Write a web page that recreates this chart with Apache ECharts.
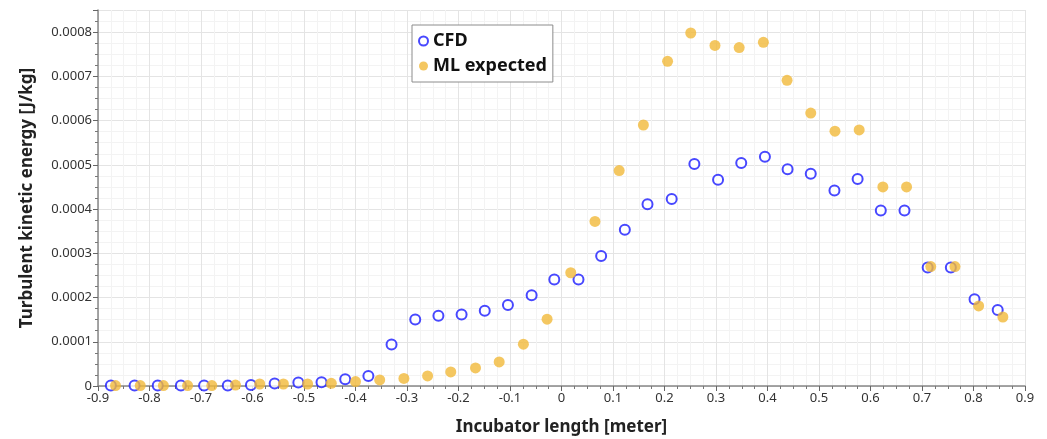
<!DOCTYPE html>
<html>
<head>
<meta charset="utf-8">
<script src="https://cdn.jsdelivr.net/npm/echarts@6/dist/echarts.min.js"></script>
<style>
  html, body { margin: 0; padding: 0; background: #fff; }
  #chart { width: 1047px; height: 439px; }
</style>
</head>
<body>
<div id="chart"></div>
<script>
// CFD result, x in meter, y in J/kg
var cfdX = [-0.875, -0.829, -0.784, -0.739, -0.694, -0.648, -0.603, -0.557, -0.511, -0.466,
  -0.420, -0.375, -0.330, -0.284, -0.239, -0.194, -0.149, -0.104, -0.058, -0.014,
  0.033, 0.077, 0.123, 0.167, 0.214, 0.258, 0.304, 0.349, 0.395, 0.439,
  0.484, 0.530, 0.575, 0.620, 0.666, 0.711, 0.756, 0.802, 0.847];
var cfdY = [0.000001, 0.000001, 0.000001, 0.000001, 0.000001, 0.000001, 0.000002, 0.0000054, 0.0000077, 0.0000084,
  0.0000152, 0.0000227, 0.0000938, 0.0001504, 0.0001587, 0.0001617, 0.00017, 0.000183, 0.000205, 0.000241,
  0.000241, 0.000294, 0.000353, 0.000411, 0.000423, 0.000502, 0.000466, 0.000504, 0.000518, 0.000490,
  0.00048, 0.000442, 0.000468, 0.000397, 0.000397, 0.000268, 0.000268, 0.000196, 0.000172];

// ML expected
var mlX = [-0.866, -0.818, -0.773, -0.726, -0.679, -0.633, -0.586, -0.540, -0.493, -0.447,
  -0.400, -0.353, -0.306, -0.260, -0.215, -0.167, -0.121, -0.074, -0.028, 0.018,
  0.065, 0.112, 0.159, 0.206, 0.251, 0.298, 0.345, 0.392, 0.438, 0.484,
  0.531, 0.578, 0.624, 0.670, 0.717, 0.764, 0.810, 0.857];
var mlY = [0.000001, 0.000001, 0.000001, 0.000001, 0.000001, 0.000002, 0.0000045, 0.0000045, 0.0000045, 0.000006,
  0.00001, 0.0000136, 0.0000172, 0.0000227, 0.0000317, 0.0000408, 0.0000544, 0.0000945, 0.000151, 0.000256,
  0.000372, 0.000487, 0.00059, 0.000734, 0.000798, 0.00077, 0.000765, 0.000777, 0.000691, 0.000617,
  0.000576, 0.000579, 0.00045, 0.00045, 0.00027, 0.00027, 0.000181, 0.000156];

function pairs(xs, ys) {
  var out = [];
  for (var i = 0; i < xs.length; i++) {
    out.push([xs[i], ys[i]]);
  }
  return out;
}

var fontName = "Noto Sans";
var myChart = echarts.init(document.getElementById("chart"), null, { renderer: "canvas" });

var option = {
  animation: false,
  textStyle: { fontFamily: fontName },
  grid: { left: 98, right: 22, top: 10, bottom: 53, outerBoundsMode: "none" },
  legend: {
    left: 412,
    top: 25,
    orient: "vertical",
    itemGap: 7,
    itemWidth: 9,
    itemHeight: 9,
    padding: [7, 6, 7, 6],
    borderColor: "#8c8c8c",
    borderWidth: 1,
    backgroundColor: "#fff",
    textStyle: { fontSize: 18, fontWeight: "bold", color: "#111", fontFamily: fontName },
    data: ["CFD", "ML expected"]
  },
  xAxis: {
    type: "value",
    min: -0.9,
    max: 0.9,
    interval: 0.1,
    name: "Incubator length [meter]",
    nameLocation: "middle",
    nameGap: 33,
    nameTextStyle: { fontSize: 17, fontWeight: "bold", color: "#222", fontFamily: fontName },
    axisLine: { show: true, onZero: false, lineStyle: { color: "#888", width: 1.5 } },
    axisTick: { show: true, length: 5, lineStyle: { color: "#666" } },
    minorTick: { show: true, splitNumber: 4, length: 3, lineStyle: { color: "#777" } },
    axisLabel: {
      fontSize: 13,
      color: "#333",
      margin: 6,
      formatter: function (v) {
        var s = Number(v).toFixed(1);
        return s === "0.0" || s === "-0.0" ? "0" : s;
      }
    },
    splitLine: { show: true, lineStyle: { color: "#e4e4e4" } },
    minorSplitLine: { show: true, lineStyle: { color: "#f3f3f3" } }
  },
  yAxis: {
    type: "value",
    min: 0,
    max: 0.00085,
    interval: 0.0001,
    name: "Turbulent kinetic energy [J/kg]",
    nameLocation: "middle",
    nameGap: 62,
    nameTextStyle: { fontSize: 17, fontWeight: "bold", color: "#222", fontFamily: fontName },
    axisLine: { show: true, onZero: false, lineStyle: { color: "#888", width: 1.5 } },
    axisTick: { show: true, length: 5, lineStyle: { color: "#666" } },
    minorTick: { show: true, splitNumber: 4, length: 3, lineStyle: { color: "#777" } },
    axisLabel: {
      fontSize: 13,
      color: "#333",
      margin: 6,
      formatter: function (v) {
        if (Math.abs(v) < 1e-12) return "0";
        var k = v * 10000;
        if (Math.abs(k - Math.round(k)) > 1e-6) return "";
        return Number(v).toFixed(4);
      }
    },
    splitLine: { show: true, lineStyle: { color: "#e4e4e4" } },
    minorSplitLine: { show: true, lineStyle: { color: "#f3f3f3" } }
  },
  series: [
    {
      name: "CFD",
      type: "scatter",
      symbol: "emptyCircle",
      symbolSize: 10,
      clip: false,
      itemStyle: { color: "#1a1aff", borderColor: "#1a1aff", borderWidth: 2 },
      data: pairs(cfdX, cfdY),
      z: 2
    },
    {
      name: "ML expected",
      type: "scatter",
      symbol: "circle",
      symbolSize: 11,
      clip: false,
      itemStyle: { color: "#f1b93a" },
      data: pairs(mlX, mlY),
      z: 3
    }
  ]
};

myChart.setOption(option);
window.addEventListener("resize", function () {
  myChart.resize();
});
</script>
</body>
</html>
